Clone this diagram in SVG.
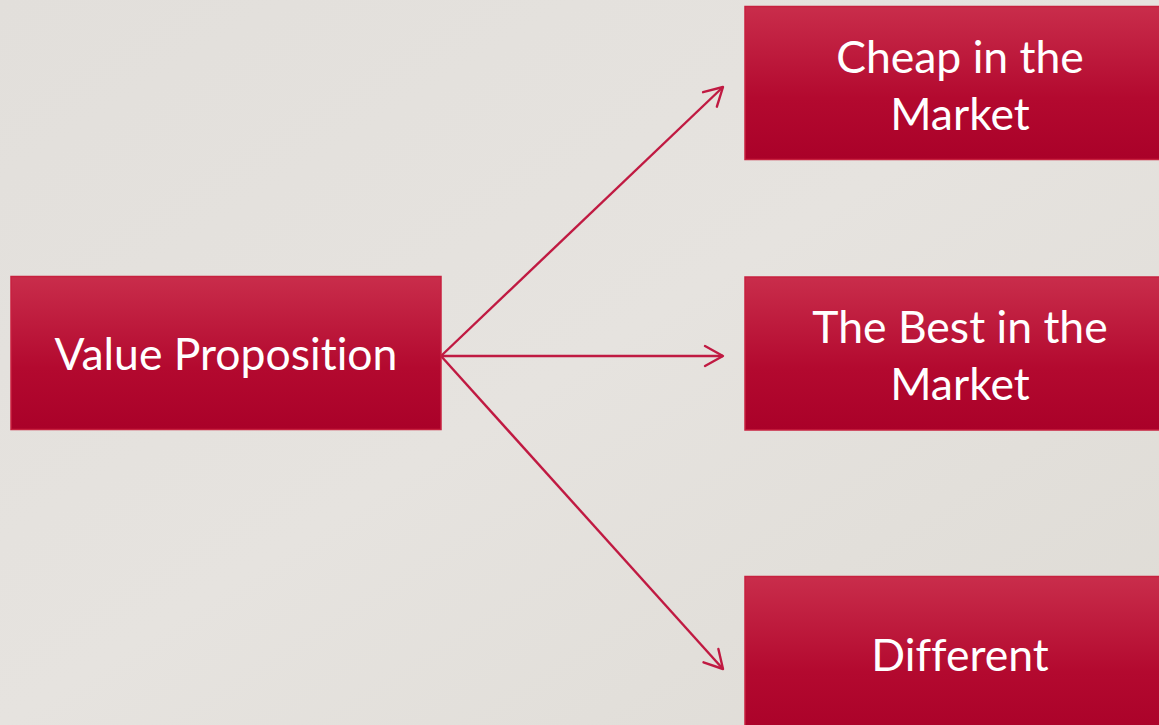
<svg xmlns="http://www.w3.org/2000/svg" width="1159" height="725" viewBox="0 0 1159 725">
<defs>
<linearGradient id="bg" x1="0" y1="0" x2="1" y2="1">
<stop offset="0" stop-color="#e2dfdb"/>
<stop offset="0.5" stop-color="#e6e3df"/>
<stop offset="1" stop-color="#dedbd5"/>
</linearGradient>
<linearGradient id="box" x1="0" y1="0" x2="0" y2="1">
<stop offset="0" stop-color="#c92d4b"/>
<stop offset="0.6" stop-color="#b3092f"/>
<stop offset="1" stop-color="#aa0129"/>
</linearGradient>
<marker id="arr" viewBox="0 0 12 12" refX="10" refY="6" markerWidth="12" markerHeight="12" markerUnits="userSpaceOnUse" orient="auto" overflow="visible">
<path d="M-8,-4 L10,6 L-8,16" fill="none" stroke="#c01a42" stroke-width="2.4" stroke-linecap="round" stroke-linejoin="round"/>
</marker>
<style>
.node rect{fill:url(#box);stroke:#c7213f;stroke-width:1.5}
.node text{font-family:"Lato","Open Sans","Liberation Sans",sans-serif;font-size:44.5px;fill:#ffffff;text-anchor:middle;font-variant-ligatures:none}
.conn line{stroke:#c01a42;stroke-width:2.4;fill:none}
</style>
</defs>
<rect width="1159" height="725" fill="url(#bg)"/>
<g class="conn" id="connectors">
<line x1="441" y1="356" x2="723" y2="87" marker-end="url(#arr)"/>
<line x1="441" y1="356" x2="723" y2="356" marker-end="url(#arr)"/>
<line x1="441" y1="356" x2="723" y2="669" marker-end="url(#arr)"/>
</g>
<g class="node" id="value-proposition">
<rect x="11" y="276.5" width="430" height="153"/>
<text x="226" y="370">Value Proposition</text>
</g>
<g class="node" id="cheap">
<rect x="745" y="6.5" width="430" height="153"/>
<text x="960" y="73">Cheap in the</text>
<text x="960" y="130">Market</text>
</g>
<g class="node" id="best">
<rect x="745" y="277" width="430" height="153"/>
<text x="960" y="343">The Best in the</text>
<text x="960" y="400">Market</text>
</g>
<g class="node" id="different">
<rect x="745" y="576.5" width="430" height="160"/>
<text x="960" y="671">Different</text>
</g>
</svg>
